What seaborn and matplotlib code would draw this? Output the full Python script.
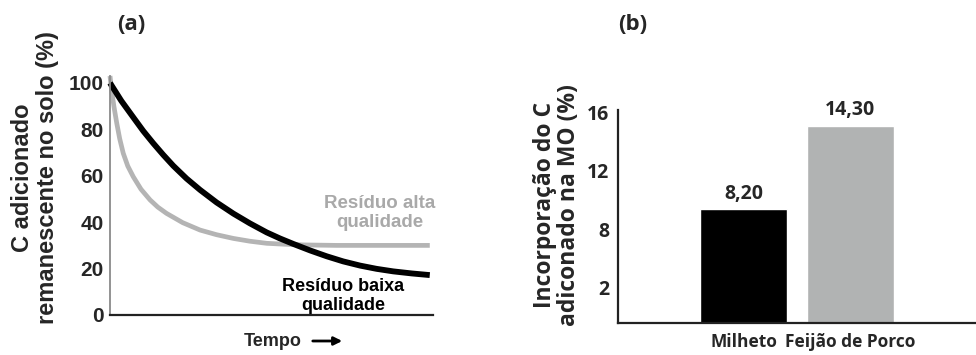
import numpy as np
import pandas as pd
import matplotlib
matplotlib.use("Agg")
import matplotlib.pyplot as plt
import seaborn as sns

# ---- data ----
tempo_baixa = [0, 3.5, 7.2, 10.3, 13.4, 16.5, 19.6, 23.7, 27.9, 33.0, 38.2, 43.3, 48.5, 52.6, 56.8, 62.0, 67.1, 72.2, 77.4, 82.5, 87.7, 93.5, 99.0]
c_baixa     = [100, 92.3, 85.2, 79.3, 74.0, 69.0, 64.3, 58.8, 53.9, 48.5, 43.7, 39.5, 35.6, 33.0, 30.6, 27.8, 25.3, 23.1, 21.3, 19.9, 18.8, 17.9, 17.2]
tempo_alta  = [0, 0.5, 1.2, 2.1, 3.0, 4.1, 5.5, 7.2, 9.6, 12.4, 14.8, 17.5, 22.5, 27.9, 33.0, 38.2, 43.3, 48.5, 54.0, 60.0, 70.0, 80.0, 90.0, 99.0]
c_alta      = [103, 97, 90, 82.6, 76, 69.7, 64.2, 59.6, 54.2, 49.6, 46.5, 43.8, 39.8, 36.6, 34.6, 33.0, 31.8, 30.9, 30.5, 30.2, 30.0, 30.0, 30.0, 30.0]
yticks_a = [0, 20, 40, 60, 80, 100]

categorias = ["Milheto", "Feijão de Porco"]
incorporacao = [9.36, 15.05]
rotulos_barras = ["8,20", "14,30"]
yticks_b_pos = [4, 8, 12, 16]
yticks_b_lab = ["2", "8", "12", "16"]

sns.set_style("white")
plt.rcParams["font.family"] = ["Liberation Sans", "DejaVu Sans"]
FB = ["Open Sans", "DejaVu Sans"]

fig = plt.figure(figsize=(9.76, 3.55), dpi=100)
W, H = 976, 355

def box(x0, y0, x1, y1):
    return [x0 / W, 1 - y1 / H, (x1 - x0) / W, (y1 - y0) / H]

# ---------------- panel (a) ----------------
axa = fig.add_axes(box(110, 76, 433, 315))
dfb = pd.DataFrame({"t": tempo_baixa, "c": c_baixa})
dfa = pd.DataFrame({"t": tempo_alta, "c": c_alta})
sns.lineplot(data=dfa, x="t", y="c", ax=axa, color="#b4b4b4", lw=3.4,
             solid_capstyle="butt", solid_joinstyle="round", clip_on=False)
sns.lineplot(data=dfb, x="t", y="c", ax=axa, color="#000000", lw=4.2,
             solid_capstyle="butt", solid_joinstyle="round", clip_on=False)
axa.set_xlim(0, 100)
axa.set_ylim(0, 103)
axa.set_xticks([])
axa.set_yticks(yticks_a)
axa.set_yticklabels([str(v) for v in yticks_a], fontsize=15, fontweight="bold")
axa.tick_params(axis="y", direction="inout", length=7, width=1.5, color="#111111", pad=1)
for s in ["top", "right"]:
    axa.spines[s].set_visible(False)
axa.spines["left"].set_color("#8a8a8a")
axa.spines["left"].set_linewidth(1.3)
axa.spines["bottom"].set_color("#222222")
axa.spines["bottom"].set_linewidth(1.6)
axa.set_xlabel("")
axa.set_ylabel("")

fig.text(380 / W, 1 - 213 / H, "Resíduo alta\nqualidade",
         ha="center", va="center", fontsize=13.5, fontweight="bold", color="#a9a9a9",
         linespacing=1.1)
fig.text(343 / W, 1 - 296 / H, "Resíduo baixa\nqualidade",
         ha="center", va="center", fontsize=13, fontweight="bold", color="#000000",
         linespacing=1.1)

fig.text(35 / W, 1 - 178 / H, "C adicionado\nremanescente no solo (%)", rotation=90,
         ha="center", va="center", fontsize=17, fontweight="bold", linespacing=1.1,
         multialignment="center")
fig.text(273 / W, 1 - 342 / H, "Tempo", ha="center", va="center",
         fontsize=13, fontweight="bold")
fig.add_artist(matplotlib.patches.FancyArrowPatch(
    (310 / W, 1 - 341 / H), (345 / W, 1 - 341 / H), transform=fig.transFigure,
    arrowstyle="-|>", mutation_scale=12, lw=2.0, color="black"))
fig.text(131 / W, 1 - 24 / H, "(a)", ha="center", va="center", fontsize=16,
         fontweight="bold", family=FB)

# ---------------- panel (b) ----------------
axb = fig.add_axes(box(618, 110, 976, 323))
dfbar = pd.DataFrame({"cat": categorias, "val": incorporacao})
sns.barplot(data=dfbar, x="cat", y="val", hue="cat", palette=["#000000", "#b1b3b3"],
            width=0.813, ax=axb, legend=False, saturation=1)
axb.set_xlim(-1.173, 2.173)
axb.set_ylim(1.6, 16.14)
axb.set_yticks(yticks_b_pos)
axb.set_yticklabels(yticks_b_lab, fontsize=14, fontweight="bold", family=FB)
axb.set_xticks(range(len(categorias)))
axb.set_xticklabels(categorias, fontsize=12.5, fontweight="bold", family=FB)
axb.tick_params(axis="y", direction="inout", length=9, width=1.5, color="#111111", pad=2)
axb.tick_params(axis="x", length=0, pad=7)
for s in ["top", "right"]:
    axb.spines[s].set_visible(False)
for s in ["left", "bottom"]:
    axb.spines[s].set_color("#222222")
    axb.spines[s].set_linewidth(1.6)
axb.set_xlabel("")
axb.set_ylabel("")
for cont, lab in zip(axb.containers, rotulos_barras):
    axb.bar_label(cont, labels=[lab], padding=4, fontsize=14, fontweight="bold",
                  family=FB, clip_on=False)

fig.text(557 / W, 1 - 205 / H, "Incorporação do C\nadiconado na MO (%)", rotation=90,
         ha="center", va="center", fontsize=16.5, fontweight="bold", linespacing=1.0,
         multialignment="center", family=FB)
fig.text(633 / W, 1 - 24 / H, "(b)", ha="center", va="center", fontsize=16,
         fontweight="bold", family=FB)

fig.savefig("out.png", dpi=100, facecolor="white")
